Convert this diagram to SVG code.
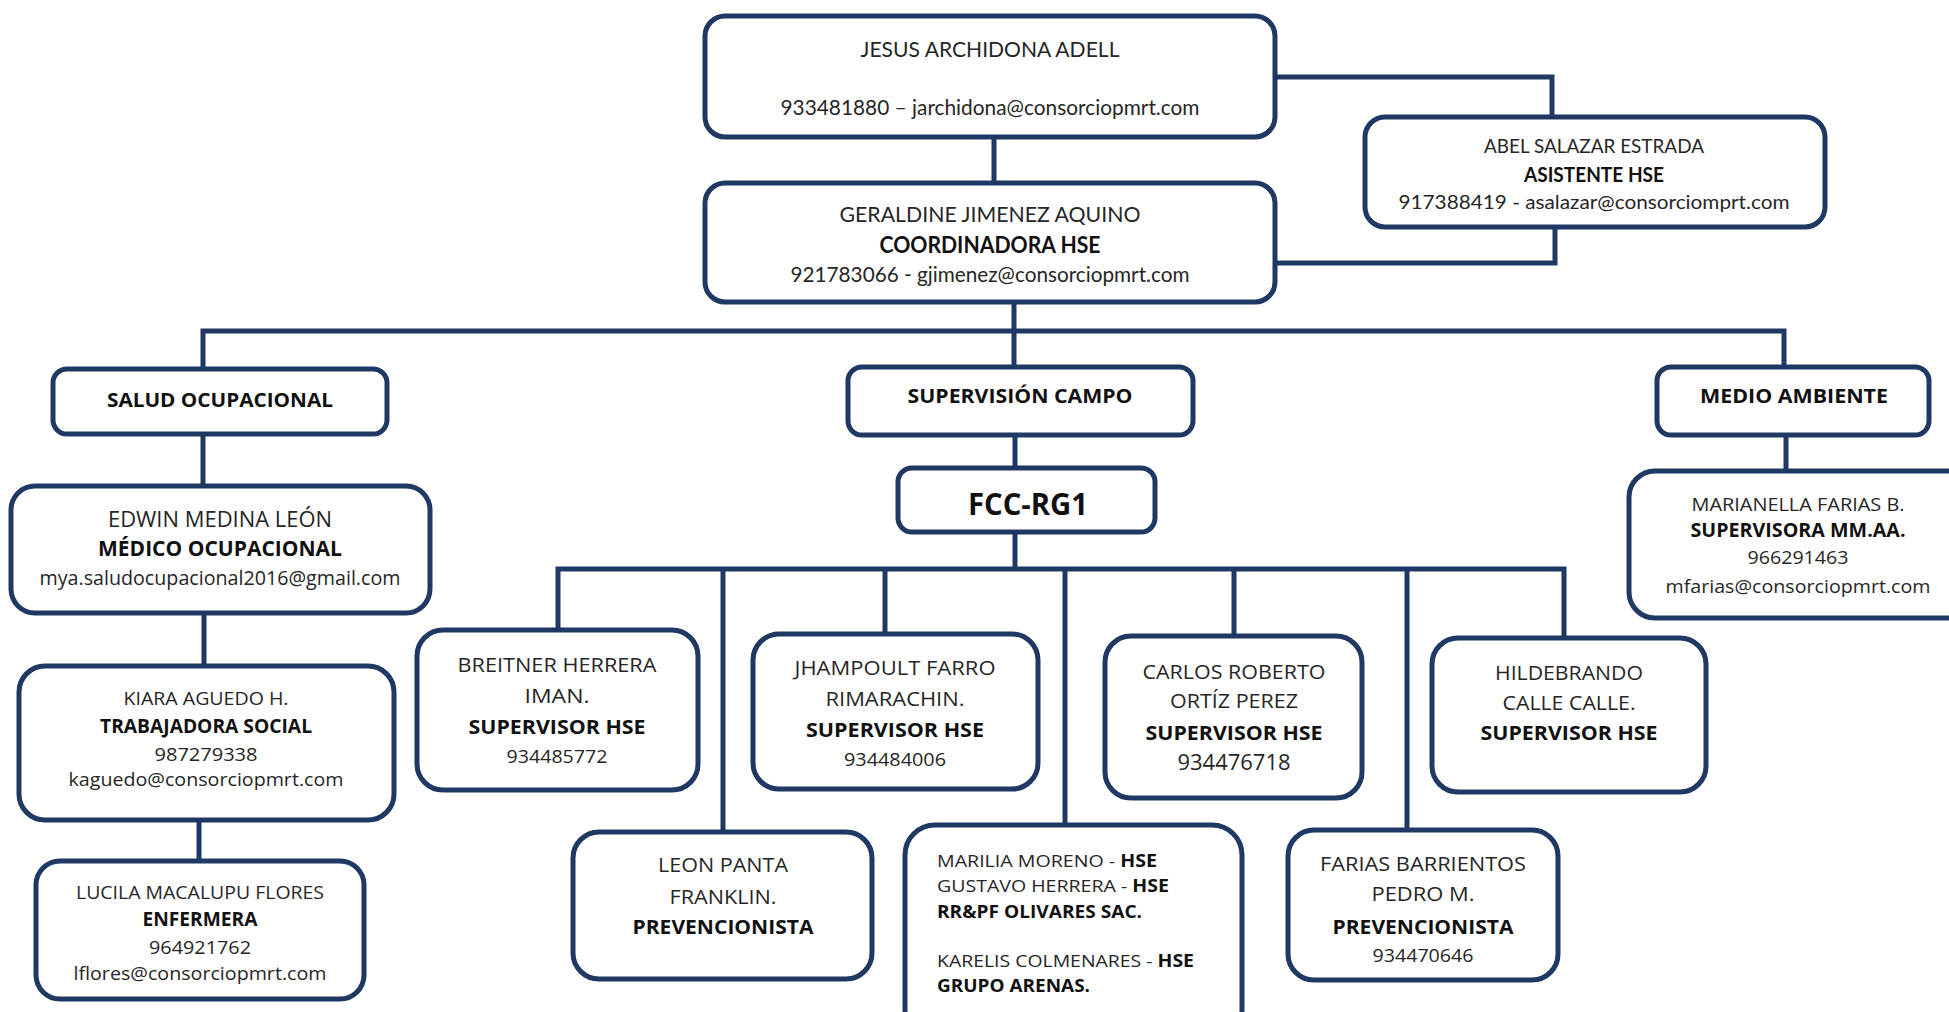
<svg xmlns="http://www.w3.org/2000/svg" width="1949" height="1012" viewBox="0 0 1949 1012">
<style>
  .box { fill: #ffffff; stroke: #1f3864; stroke-width: 5; }
  .conn { fill: none; stroke: #1f3864; stroke-width: 5; stroke-linejoin: miter; stroke-linecap: butt; }
  text { fill: #262626; text-anchor: middle; }
  .n { font-family: Lato, "Liberation Sans", sans-serif; }
  .w { font-family: "Open Sans", "Liberation Sans", sans-serif; }
  .b { font-weight: bold; fill: #111111; }
  .l { text-anchor: start; }
</style>
<rect x="0" y="0" width="1949" height="1012" fill="#ffffff"/>

<g id="connectors">
  <path class="conn" d="M994 137 V183"/>
  <path class="conn" d="M1275 77 H1552 V117"/>
  <path class="conn" d="M1555 227 V263 H1275"/>
  <path class="conn" d="M1014 302 V331"/>
  <path class="conn" d="M203 369 V331 H1784 V367"/>
  <path class="conn" d="M1014 331 V367"/>
  <path class="conn" d="M203 434 V486"/>
  <path class="conn" d="M204 613 V666"/>
  <path class="conn" d="M199 820 V861"/>
  <path class="conn" d="M1015 435 V468"/>
  <path class="conn" d="M1015 532 V569"/>
  <path class="conn" d="M558 630 V569 H1564 V638"/>
  <path class="conn" d="M723 569 V832"/>
  <path class="conn" d="M885 569 V634"/>
  <path class="conn" d="M1065 569 V825"/>
  <path class="conn" d="M1234 569 V636"/>
  <path class="conn" d="M1407 569 V830"/>
  <path class="conn" d="M1786 435 V471"/>
</g>

<g id="jesus">
  <rect class="box" x="705" y="16" width="570" height="121" rx="20"/>
  <text class="n" x="990" y="57" font-size="22" textLength="259" lengthAdjust="spacingAndGlyphs">JESUS ARCHIDONA ADELL</text>
  <text class="n" x="990" y="115" font-size="21" textLength="419" lengthAdjust="spacingAndGlyphs">933481880 – jarchidona@consorciopmrt.com</text>
</g>

<g id="abel">
  <rect class="box" x="1365" y="117" width="460" height="110" rx="20"/>
  <text class="n" x="1594" y="153" font-size="20" textLength="220" lengthAdjust="spacingAndGlyphs">ABEL SALAZAR ESTRADA</text>
  <text class="n b" x="1594" y="182" font-size="20" textLength="140" lengthAdjust="spacingAndGlyphs">ASISTENTE HSE</text>
  <text class="n" x="1594" y="209" font-size="20" textLength="391" lengthAdjust="spacingAndGlyphs">917388419 - asalazar@consorciomprt.com</text>
</g>

<g id="geraldine">
  <rect class="box" x="705" y="183" width="570" height="119" rx="20"/>
  <text class="n" x="990" y="222" font-size="22" textLength="301" lengthAdjust="spacingAndGlyphs">GERALDINE JIMENEZ AQUINO</text>
  <text class="n b" x="990" y="253" font-size="22" textLength="221" lengthAdjust="spacingAndGlyphs">COORDINADORA HSE</text>
  <text class="n" x="990" y="282" font-size="21" textLength="399" lengthAdjust="spacingAndGlyphs">921783066 - gjimenez@consorciopmrt.com</text>
</g>

<g id="salud">
  <rect class="box" x="53" y="369" width="334" height="65" rx="14"/>
  <text class="w b" x="220" y="407" font-size="20" textLength="226" lengthAdjust="spacingAndGlyphs">SALUD OCUPACIONAL</text>
</g>

<g id="supervision">
  <rect class="box" x="848" y="367" width="345" height="68" rx="14"/>
  <text class="w b" x="1020" y="403" font-size="20" textLength="225" lengthAdjust="spacingAndGlyphs">SUPERVISIÓN CAMPO</text>
</g>

<g id="medio">
  <rect class="box" x="1657" y="367" width="272" height="68" rx="14"/>
  <text class="w b" x="1794" y="403" font-size="20" textLength="188" lengthAdjust="spacingAndGlyphs">MEDIO AMBIENTE</text>
</g>

<g id="fcc">
  <rect class="box" x="898" y="468" width="257" height="64" rx="14"/>
  <text class="w b" x="1028" y="515" font-size="30" textLength="120" lengthAdjust="spacingAndGlyphs">FCC-RG1</text>
</g>

<g id="edwin">
  <rect class="box" x="11" y="486" width="419" height="127" rx="24"/>
  <text class="w" x="220" y="527" font-size="21" textLength="224" lengthAdjust="spacingAndGlyphs">EDWIN MEDINA LEÓN</text>
  <text class="w b" x="220" y="556" font-size="21" textLength="244" lengthAdjust="spacingAndGlyphs">MÉDICO OCUPACIONAL</text>
  <text class="w" x="220" y="585" font-size="20" textLength="361" lengthAdjust="spacingAndGlyphs">mya.saludocupacional2016@gmail.com</text>
</g>

<g id="kiara">
  <rect class="box" x="19" y="666" width="375" height="154" rx="26"/>
  <text class="w" x="206" y="705" font-size="19" textLength="165" lengthAdjust="spacingAndGlyphs">KIARA AGUEDO H.</text>
  <text class="w b" x="206" y="733" font-size="19" textLength="212" lengthAdjust="spacingAndGlyphs">TRABAJADORA SOCIAL</text>
  <text class="w" x="206" y="761" font-size="19" textLength="103" lengthAdjust="spacingAndGlyphs">987279338</text>
  <text class="w" x="206" y="786" font-size="19" textLength="275" lengthAdjust="spacingAndGlyphs">kaguedo@consorciopmrt.com</text>
</g>

<g id="lucila">
  <rect class="box" x="36" y="861" width="328" height="138" rx="24"/>
  <text class="w" x="200" y="899" font-size="19" textLength="248" lengthAdjust="spacingAndGlyphs">LUCILA MACALUPU FLORES</text>
  <text class="w b" x="200" y="926" font-size="19" textLength="115" lengthAdjust="spacingAndGlyphs">ENFERMERA</text>
  <text class="w" x="200" y="954" font-size="19" textLength="102" lengthAdjust="spacingAndGlyphs">964921762</text>
  <text class="w" x="200" y="980" font-size="19" textLength="253" lengthAdjust="spacingAndGlyphs">lflores@consorciopmrt.com</text>
</g>

<g id="marianella">
  <rect class="box" x="1629" y="471" width="345" height="147" rx="26"/>
  <text class="w" x="1798" y="511" font-size="19" textLength="213" lengthAdjust="spacingAndGlyphs">MARIANELLA FARIAS B.</text>
  <text class="w b" x="1798" y="537" font-size="19" textLength="215" lengthAdjust="spacingAndGlyphs">SUPERVISORA MM.AA.</text>
  <text class="w" x="1798" y="564" font-size="19" textLength="101" lengthAdjust="spacingAndGlyphs">966291463</text>
  <text class="w" x="1798" y="593" font-size="19" textLength="265" lengthAdjust="spacingAndGlyphs">mfarias@consorciopmrt.com</text>
</g>

<g id="breitner">
  <rect class="box" x="417" y="630" width="281" height="160" rx="26"/>
  <text class="w" x="557" y="672" font-size="20" textLength="199" lengthAdjust="spacingAndGlyphs">BREITNER HERRERA</text>
  <text class="w" x="557" y="703" font-size="20" textLength="65" lengthAdjust="spacingAndGlyphs">IMAN.</text>
  <text class="w b" x="557" y="734" font-size="20" textLength="177" lengthAdjust="spacingAndGlyphs">SUPERVISOR HSE</text>
  <text class="w" x="557" y="763" font-size="19" textLength="101" lengthAdjust="spacingAndGlyphs">934485772</text>
</g>

<g id="jhampoult">
  <rect class="box" x="753" y="634" width="285" height="155" rx="26"/>
  <text class="w" x="895" y="675" font-size="20" textLength="201" lengthAdjust="spacingAndGlyphs">JHAMPOULT FARRO</text>
  <text class="w" x="895" y="706" font-size="20" textLength="139" lengthAdjust="spacingAndGlyphs">RIMARACHIN.</text>
  <text class="w b" x="895" y="737" font-size="20" textLength="178" lengthAdjust="spacingAndGlyphs">SUPERVISOR HSE</text>
  <text class="w" x="895" y="766" font-size="19" textLength="102" lengthAdjust="spacingAndGlyphs">934484006</text>
</g>

<g id="carlos">
  <rect class="box" x="1105" y="636" width="257" height="162" rx="26"/>
  <text class="w" x="1234" y="679" font-size="20" textLength="183" lengthAdjust="spacingAndGlyphs">CARLOS ROBERTO</text>
  <text class="w" x="1234" y="708" font-size="20" textLength="128" lengthAdjust="spacingAndGlyphs">ORTÍZ PEREZ</text>
  <text class="w b" x="1234" y="740" font-size="20" textLength="177" lengthAdjust="spacingAndGlyphs">SUPERVISOR HSE</text>
  <text class="w" x="1234" y="770" font-size="21" textLength="113" lengthAdjust="spacingAndGlyphs">934476718</text>
</g>

<g id="hildebrando">
  <rect class="box" x="1432" y="638" width="274" height="154" rx="26"/>
  <text class="w" x="1569" y="680" font-size="20" textLength="148" lengthAdjust="spacingAndGlyphs">HILDEBRANDO</text>
  <text class="w" x="1569" y="710" font-size="20" textLength="133" lengthAdjust="spacingAndGlyphs">CALLE CALLE.</text>
  <text class="w b" x="1569" y="740" font-size="20" textLength="177" lengthAdjust="spacingAndGlyphs">SUPERVISOR HSE</text>
</g>

<g id="leon">
  <rect class="box" x="573" y="832" width="299" height="147" rx="26"/>
  <text class="w" x="723" y="872" font-size="20" textLength="130" lengthAdjust="spacingAndGlyphs">LEON PANTA</text>
  <text class="w" x="723" y="904" font-size="20" textLength="107" lengthAdjust="spacingAndGlyphs">FRANKLIN.</text>
  <text class="w b" x="723" y="934" font-size="20" textLength="181" lengthAdjust="spacingAndGlyphs">PREVENCIONISTA</text>
</g>

<g id="marilia">
  <rect class="box" x="905" y="825" width="337" height="215" rx="30"/>
  <text class="w l" x="937" y="867" font-size="17" textLength="220" lengthAdjust="spacingAndGlyphs">MARILIA MORENO - <tspan class="b">HSE</tspan></text>
  <text class="w l" x="937" y="892" font-size="17" textLength="232" lengthAdjust="spacingAndGlyphs">GUSTAVO HERRERA - <tspan class="b">HSE</tspan></text>
  <text class="w l b" x="937" y="918" font-size="17" textLength="205" lengthAdjust="spacingAndGlyphs">RR&amp;PF OLIVARES SAC.</text>
  <text class="w l" x="937" y="967" font-size="17" textLength="257" lengthAdjust="spacingAndGlyphs">KARELIS COLMENARES - <tspan class="b">HSE</tspan></text>
  <text class="w l b" x="937" y="992" font-size="17" textLength="153" lengthAdjust="spacingAndGlyphs">GRUPO ARENAS.</text>
</g>

<g id="farias">
  <rect class="box" x="1288" y="830" width="270" height="150" rx="26"/>
  <text class="w" x="1423" y="871" font-size="20" textLength="206" lengthAdjust="spacingAndGlyphs">FARIAS BARRIENTOS</text>
  <text class="w" x="1423" y="901" font-size="20" textLength="103" lengthAdjust="spacingAndGlyphs">PEDRO M.</text>
  <text class="w b" x="1423" y="934" font-size="20" textLength="181" lengthAdjust="spacingAndGlyphs">PREVENCIONISTA</text>
  <text class="w" x="1423" y="962" font-size="19" textLength="101" lengthAdjust="spacingAndGlyphs">934470646</text>
</g>
</svg>
